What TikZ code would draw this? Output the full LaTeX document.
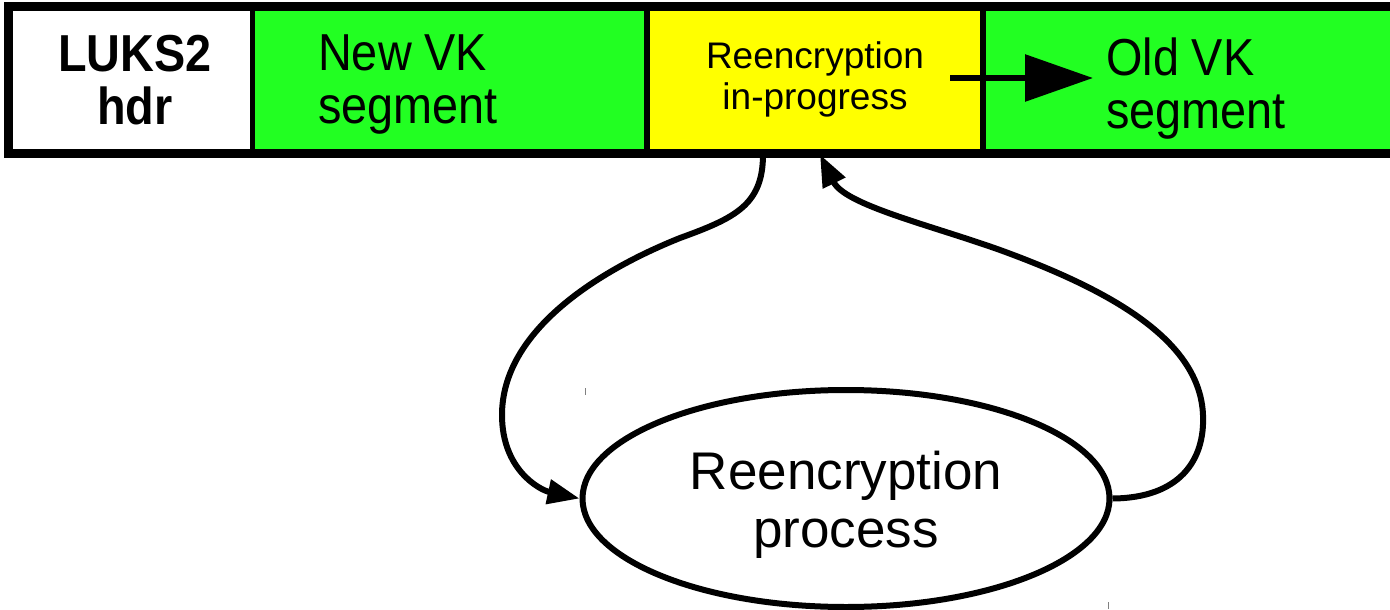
\documentclass[tikz,border=0pt]{standalone}
\usepackage{fontspec}
\setmainfont{Liberation Sans}
\newfontfamily\narrowfont[FakeStretch=0.9]{Liberation Sans}
\usetikzlibrary{arrows.meta,shapes.geometric}
\definecolor{segGreen}{HTML}{22FF22}
\definecolor{segYellow}{HTML}{FFFF00}
\tikzset{
  segbox/.style={draw=black, line width=5pt, inner sep=0pt, minimum height=143pt},
  bigtext/.style={font=\narrowfont\fontsize{52}{53}\selectfont, inner sep=0pt},
  conn/.style={line width=6pt, -{Triangle[length=32pt,width=24pt]}},
}
\begin{document}
\begin{tikzpicture}[x=1pt,y=-1pt]
\useasboundingbox (0,0) rectangle (1390,610);
\clip (0,0) rectangle (1390,610);
% segments
\node[segbox, fill=white, minimum width=242pt] (hdr) at (131,80) {};
\node[segbox, fill=segGreen, minimum width=395pt] (newseg) at (449.5,80) {};
\node[segbox, fill=segGreen, minimum width=417pt] (oldseg) at (1191.5,80) {};
\node[segbox, fill=segYellow, line width=6pt, minimum width=336pt] (yel) at (815,80) {};
\draw[line width=7pt] (hdr.north west) rectangle (oldseg.south east);
% texts
\node[bigtext, font=\narrowfont\fontsize{52}{53}\selectfont\bfseries, align=center] (hdrtxt) at (135,80) {LUKS2\\hdr};
\node[bigtext, align=left, anchor=west] (newtxt) at (318,85) {New VK\\segment};
\node[bigtext, align=left, anchor=west] (oldtxt) at (1106,89) {Old VK\\segment};
\node[font=\fontsize{37}{41}\selectfont, inner sep=0pt, align=center] (yeltxt) at (815,79) {Reencryption\\in-progress};
% arrow inside bar
\coordinate (arrS) at (950,78);
\coordinate (arrE) at (1093,78);
\draw[line width=6pt, -{Triangle[length=68pt,width=46pt]}] (arrS) -- (arrE);
% process ellipse
\node[ellipse, draw=black, line width=6pt, minimum width=527pt, minimum height=217pt] (proc) at (846,498.5) {};
\node[font=\fontsize{53}{58}\selectfont, inner sep=0pt, align=center] (proctxt) at (846,505) {Reencryption\\process};
% connectors
\draw[conn] ([xshift=-52pt]yel.south) .. controls (763,205) and (735,218) .. (680,238)
  .. controls (600,270) and (502,330) .. (502,415)
  .. controls (502,470) and (540,490) .. (proc.west);
\draw[conn] (proc.east) .. controls (1180,498) and (1205,460) .. (1203,415)
  .. controls (1200,340) and (1110,290) .. (1000,250)
  .. controls (930,225) and (845,205) .. ([xshift=5pt]yel.south);
% small marks
\draw[gray, line width=0.8pt] (585,388) -- (585,395);
\draw[gray, line width=0.8pt] (1108,602) -- (1108,609);
\end{tikzpicture}
\end{document}
